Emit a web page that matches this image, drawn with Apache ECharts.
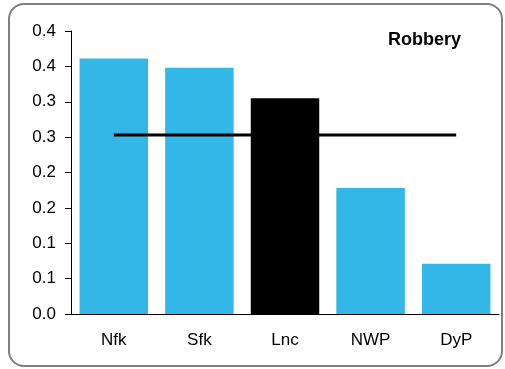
<!DOCTYPE html>
<html>
<head>
<meta charset="utf-8">
<script src="https://cdn.jsdelivr.net/npm/echarts@6/dist/echarts.min.js"></script>
<style>
html, body { margin: 0; padding: 0; background: #fff; }
#frame { position: absolute; left: 8px; top: 3px; width: 491px; height: 360px;
  border: 2px solid #7f7f7f; border-radius: 16px; }
#main { position: absolute; left: 0; top: 0; width: 505px; height: 369px; }
</style>
</head>
<body>
<div id="frame"></div>
<div id="main"></div>
<script>
var areas = ['Nfk', 'Sfk', 'Lnc', 'NWP', 'DyP'];
var rates = [0.361, 0.348, 0.305, 0.178, 0.071];
var average = [0.253, 0.253, 0.253, 0.253, 0.253];
var yTickLabels = ['0.0', '0.1', '0.1', '0.2', '0.2', '0.3', '0.3', '0.4', '0.4'];

ShowChart();
function ShowChart() {
	var myChart = echarts.init(document.getElementById('main'));
	var barData = rates.map(function (v, i) {
		return {
			value: v,
			itemStyle: { color: areas[i] == 'Lnc' ? '#000000' : '#33b7e7' }
		};
	});
	var option = {
		animation: false,
		title: {
			text: 'Robbery',
			right: 39,
			top: 26,
			textStyle: { fontFamily: 'Liberation Sans', fontSize: 18, fontWeight: 'bold', color: '#000' }
		},
		grid: { left: 71, right: 6, top: 31, bottom: 55 },
		xAxis: {
			type: 'category',
			data: areas,
			axisLine: { lineStyle: { color: '#000', width: 1 } },
			axisTick: { show: false },
			axisLabel: { margin: 18, fontFamily: 'Liberation Sans', fontSize: 17, color: '#000' }
		},
		yAxis: {
			type: 'value',
			min: 0,
			max: 0.4,
			interval: 0.05,
			splitLine: { show: false },
			axisLine: { show: true, lineStyle: { color: '#000', width: 1 } },
			axisTick: { show: true, length: 6, lineStyle: { color: '#000' } },
			axisLabel: {
				margin: 15,
				fontFamily: 'Liberation Sans', fontSize: 17, color: '#000',
				formatter: function (v) { return yTickLabels[Math.round(v / 0.05)]; }
			}
		},
		series: [{
			name: 'rate',
			type: 'bar',
			barCategoryGap: '20%',
			data: barData
		}, {
			name: 'average',
			type: 'line',
			data: average,
			symbol: 'none',
			lineStyle: { color: '#000', width: 3 },
			z: 5
		}]
	};
	myChart.setOption(option);
}
</script>
</body>
</html>
